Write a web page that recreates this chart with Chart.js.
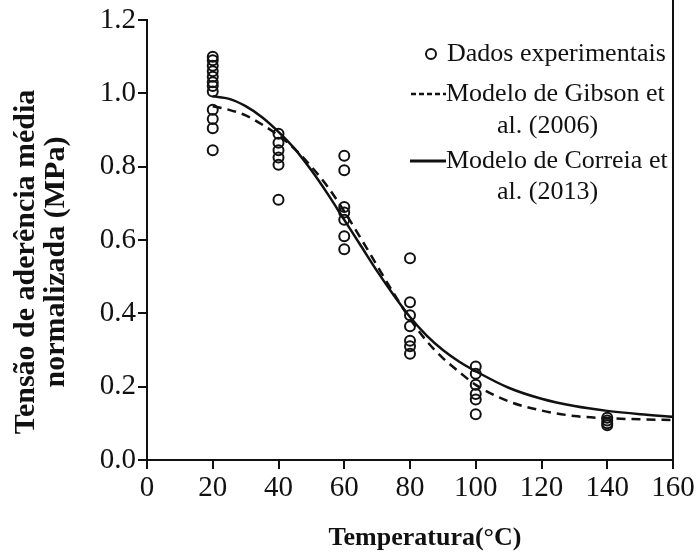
<!DOCTYPE html>
<html lang="pt">
<head>
  <meta charset="UTF-8">
  <title>Tensão de aderência normalizada vs temperatura</title>
  <style>
    html, body { margin: 0; padding: 0; background: #fff; }
    .chart-container { width: 697px; height: 555px; position: relative; }
  </style>
</head>
<body>
  <div class="chart-container">
    <canvas id="bondChart"></canvas>
  </div>

  <script src="https://cdn.jsdelivr.net/npm/chart.js@4.4.0/dist/chart.umd.min.js"></script>
  <script>
    // Experimental points (temperature in °C, normalized bond stress in MPa)
    const expTemp = [
      20, 20, 20, 20, 20, 20, 20, 20, 20, 20, 20, 20,
      40, 40, 40, 40, 40, 40,
      60, 60, 60, 60, 60, 60, 60,
      80, 80, 80, 80, 80, 80, 80,
      100, 100, 100, 100, 100, 100,
      140, 140, 140, 140
    ];
    const expStress = [
      1.10, 1.09, 1.075, 1.06, 1.045, 1.03, 1.02, 1.005, 0.955, 0.93, 0.905, 0.845,
      0.89, 0.865, 0.845, 0.825, 0.805, 0.71,
      0.83, 0.79, 0.69, 0.675, 0.655, 0.61, 0.575,
      0.55, 0.43, 0.395, 0.365, 0.325, 0.31, 0.29,
      0.255, 0.235, 0.205, 0.18, 0.165, 0.125,
      0.115, 0.108, 0.10, 0.095
    ];

    // Model curves
    const modelTemp = [20, 25, 30, 35, 40, 45, 50, 55, 60, 65, 70, 75, 80, 85, 90, 95, 100, 110, 120, 130, 140, 150, 160];
    const gibson = [0.965, 0.955, 0.94, 0.915, 0.885, 0.848, 0.80, 0.745, 0.678, 0.605, 0.53, 0.455, 0.385, 0.325, 0.278, 0.24, 0.205, 0.16, 0.135, 0.12, 0.114, 0.111, 0.109];
    const correia = [0.992, 0.985, 0.965, 0.935, 0.895, 0.848, 0.79, 0.725, 0.655, 0.585, 0.515, 0.45, 0.39, 0.34, 0.30, 0.268, 0.242, 0.197, 0.167, 0.147, 0.134, 0.125, 0.118];

    const xTicks = [0, 20, 40, 60, 80, 100, 120, 140, 160];
    const yTicks = [0.0, 0.2, 0.4, 0.6, 0.8, 1.0, 1.2];

    const xTitle = 'Temperatura(°C)';
    const yTitle = ['Tensão de aderência média', 'normalizada (MPa)'];
    const legendItems = ['Dados experimentais', ['Modelo de Gibson et', 'al. (2006)'], ['Modelo de Correia et', 'al. (2013)']];

    const SERIF = '"Liberation Serif", "Times New Roman", serif';
    const INK = '#111';

    const toXY = (xs, ys) => xs.map((x, i) => ({ x: x, y: ys[i] }));

    // right frame line, axis titles and legend drawn on canvas
    const framePlugin = {
      id: 'frameAndLegend',
      afterDraw(chart) {
        const { ctx, chartArea } = chart;
        ctx.save();
        ctx.strokeStyle = INK;
        ctx.fillStyle = INK;
        ctx.lineWidth = 2;
        ctx.beginPath();
        ctx.moveTo(chartArea.right, 0);
        ctx.lineTo(chartArea.right, chartArea.bottom);
        ctx.stroke();

        // axis titles
        ctx.textAlign = 'center';
        ctx.textBaseline = 'middle';
        ctx.font = 'bold 26px ' + SERIF;
        ctx.fillText(xTitle, 425, 538);

        ctx.save();
        ctx.translate(0, 262);
        ctx.rotate(-Math.PI / 2);
        ctx.font = 'bold 30px ' + SERIF;
        ctx.fillText(yTitle[0], 0, 26);
        ctx.fillText(yTitle[1], 0, 56);
        ctx.restore();

        // legend
        ctx.font = '26px ' + SERIF;
        ctx.textAlign = 'left';

        ctx.lineWidth = 2;
        ctx.beginPath();
        ctx.arc(431, 54, 5, 0, Math.PI * 2);
        ctx.stroke();
        ctx.fillText(legendItems[0], 447, 54);

        ctx.lineWidth = 2.5;
        ctx.setLineDash([5, 3]);
        ctx.beginPath();
        ctx.moveTo(411, 94);
        ctx.lineTo(446, 94);
        ctx.stroke();
        ctx.setLineDash([]);
        ctx.fillText(legendItems[1][0], 446, 94);
        ctx.fillText(legendItems[1][1], 497, 126);

        ctx.lineWidth = 3;
        ctx.beginPath();
        ctx.moveTo(410, 161);
        ctx.lineTo(446, 161);
        ctx.stroke();
        ctx.fillText(legendItems[2][0], 446, 161);
        ctx.fillText(legendItems[2][1], 497, 192);
        ctx.restore();
      }
    };

    const ctx = document.getElementById('bondChart').getContext('2d');

    new Chart(ctx, {
      type: 'line',
      data: {
        datasets: [
          {
            label: 'Dados experimentais',
            data: toXY(expTemp, expStress),
            showLine: false,
            pointRadius: 5,
            pointBorderWidth: 2,
            pointBorderColor: INK,
            pointBackgroundColor: 'rgba(255,255,255,0)',
            order: 0
          },
          {
            label: 'Modelo de Gibson et al. (2006)',
            data: toXY(modelTemp, gibson),
            borderColor: INK,
            borderWidth: 2.5,
            borderDash: [9, 6],
            pointRadius: 0,
            cubicInterpolationMode: 'monotone',
            fill: false,
            order: 1
          },
          {
            label: 'Modelo de Correia et al. (2013)',
            data: toXY(modelTemp, correia),
            borderColor: INK,
            borderWidth: 2.5,
            pointRadius: 0,
            cubicInterpolationMode: 'monotone',
            fill: false,
            order: 2
          }
        ]
      },
      options: {
        responsive: true,
        maintainAspectRatio: false,
        animation: false,
        layout: { padding: { top: 20, right: 24, left: 0, bottom: 0 } },
        scales: {
          x: {
            type: 'linear',
            min: 0,
            max: 160,
            afterBuildTicks: (scale) => { scale.ticks = xTicks.map(v => ({ value: v })); },
            afterFit: (scale) => { scale.height = 95; },
            border: { display: true, color: INK, width: 2 },
            grid: { display: true, drawOnChartArea: false, drawTicks: true, tickLength: 9, color: INK, lineWidth: 2 },
            ticks: {
              color: INK,
              padding: 2,
              maxRotation: 0,
              font: { family: SERIF, size: 29 },
              callback: (v) => String(v)
            }
          },
          y: {
            min: 0,
            max: 1.2,
            afterBuildTicks: (scale) => { scale.ticks = yTicks.map(v => ({ value: v })); },
            afterFit: (scale) => { scale.width = 147; },
            border: { display: true, color: INK, width: 2 },
            grid: { display: true, drawOnChartArea: false, drawTicks: true, tickLength: 9, color: INK, lineWidth: 2 },
            ticks: {
              color: INK,
              padding: 2,
              font: { family: SERIF, size: 29 },
              callback: (v) => v.toFixed(1)
            }
          }
        },
        plugins: {
          legend: { display: false },
          tooltip: { enabled: false }
        }
      },
      plugins: [framePlugin]
    });
  </script>
</body>
</html>
